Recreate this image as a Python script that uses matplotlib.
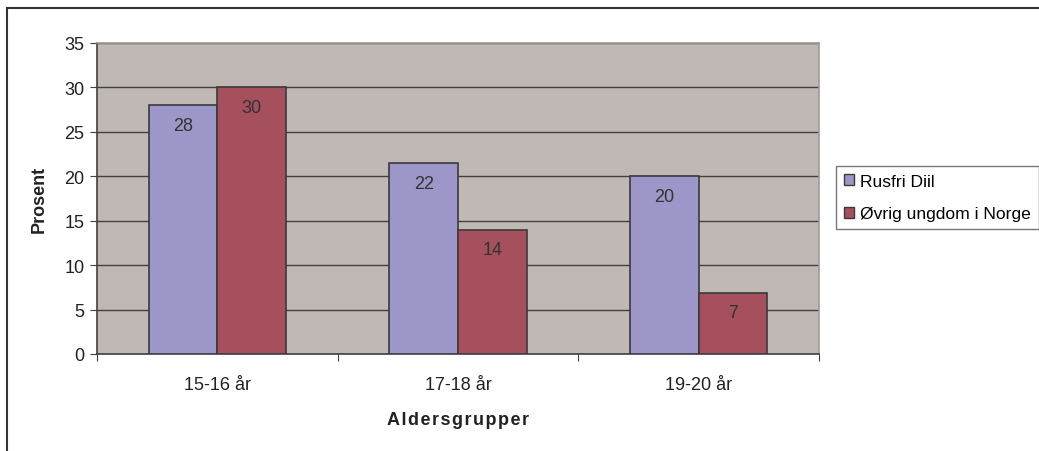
import numpy as np
import matplotlib.pyplot as plt
from matplotlib.lines import Line2D
from matplotlib.patches import Patch

# Data
kategorier = ['15-16 år', '17-18 år', '19-20 år']
rusfri_diil = [28, 21.5, 20]
ovrig_ungdom = [30, 14, 6.9]
serier = ['Rusfri Diil', 'Øvrig ungdom i Norge']

plt.rcParams['font.family'] = ['Liberation Sans', 'DejaVu Sans']

blaa = '#9c97c8'
roed = '#a6505e'
kant = '#3a3a3a'
bakgrunn = '#c0b8b5'
fs = 13

fig = plt.figure(figsize=(10.39, 4.52), dpi=100)
ax = fig.add_axes([97 / 1039, 97 / 452, 722 / 1039, 311 / 452])

x = np.arange(len(kategorier))
w = 0.285
b1 = ax.bar(x - w / 2, rusfri_diil, w, color=blaa, edgecolor=kant, linewidth=1.2, zorder=3)
b2 = ax.bar(x + w / 2, ovrig_ungdom, w, color=roed, edgecolor=kant, linewidth=1.2, zorder=3)

# verdier i toppen av stolpene
for bars, vals in [(b1, rusfri_diil), (b2, ovrig_ungdom)]:
    for r, v in zip(bars, vals):
        ax.text(r.get_x() + r.get_width() / 2, v - 1.3, '%.0f' % v,
                ha='center', va='top', fontsize=fs, color='#333333', zorder=4)

ax.set_facecolor(bakgrunn)
ax.set_xlim(-0.5, 2.5)
ax.set_ylim(0, 35)
ax.set_yticks(range(0, 36, 5))
ax.yaxis.grid(True, color='#404040', linewidth=1.0, zorder=1)
ax.set_axisbelow(True)

# kategorietiketter mellom skillestrekene
ax.set_xticks([-0.5, 0.5, 1.5, 2.5])
ax.set_xticklabels([])
ax.set_xticks(x, minor=True)
ax.set_xticklabels(kategorier, minor=True, fontsize=fs, color='#222222')
ax.tick_params(axis='x', which='minor', length=0, pad=16)
ax.tick_params(axis='x', which='major', length=5, color='#404040', direction='out')
ax.tick_params(axis='y', length=5, color='#404040', labelsize=fs, labelcolor='#222222', pad=4)

for s in ['top', 'right']:
    ax.spines[s].set_color('#a09a96')
    ax.spines[s].set_linewidth(1.2)
for s in ['left', 'bottom']:
    ax.spines[s].set_color('#404040')
    ax.spines[s].set_linewidth(1.2)

ax.set_xlabel('A l d e r s g r u p p e r'.replace(' ', '\u200a'), fontsize=fs, fontweight='bold',
              color='#222222', labelpad=13)
ax.set_ylabel('Prosent', fontsize=fs, fontweight='bold', color='#222222', labelpad=12)

# legende
handles = [Patch(facecolor=blaa, edgecolor=kant), Patch(facecolor=roed, edgecolor=kant)]
leg = fig.legend(handles, serier, loc='upper left', bbox_to_anchor=(836 / 1039, 1 - 167 / 452),
                 fontsize=12.6, frameon=True, fancybox=False, handlelength=0.6, handleheight=0.6,
                 handletextpad=0.35, borderpad=0.45, labelspacing=1.0, borderaxespad=0)
leg.get_frame().set_edgecolor('#555555')
leg.get_frame().set_linewidth(1.0)

# ytre ramme (venstre og topp)
fig.add_artist(Line2D([7 / 1039, 7 / 1039], [0, 1 - 9 / 452], transform=fig.transFigure,
                      color='#333333', linewidth=1.5))
fig.add_artist(Line2D([7 / 1039, 1], [1 - 9 / 452, 1 - 9 / 452], transform=fig.transFigure,
                      color='#333333', linewidth=1.5))

fig.savefig('out.png', dpi=100)
plt.close()
